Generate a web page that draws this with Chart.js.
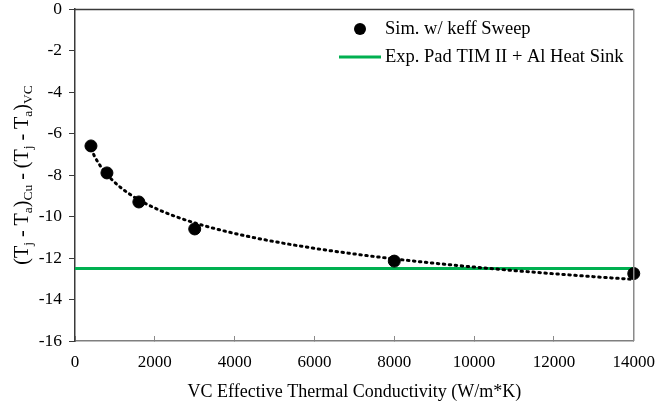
<!DOCTYPE html>
<html>
<head>
<meta charset="utf-8">
<script src="https://cdn.jsdelivr.net/npm/chart.js@4"></script>
<style>
    html, body { margin: 0; padding: 0; background: #ffffff; }
    #box { width: 671px; height: 406px; }
</style>
</head>
<body>
<div id="box"><canvas id="grafico"></canvas></div>
<script>
// dados
const conductividade = [400, 800, 1600, 3000, 8000, 14000];
const deltaTemp = [-6.6, -7.9, -9.3, -10.6, -12.15, -12.75];
const experimental = -12.5;
const xTicks = [0, 2000, 4000, 6000, 8000, 10000, 12000, 14000];
const yTicks = [0, -2, -4, -6, -8, -10, -12, -14, -16];

const serieNome = 'Sim. w/ keff Sweep';
const expNome = 'Exp. Pad TIM II + Al Heat Sink';

const fonte = 'Liberation Serif';

// linha de tendencia logaritmica (minimos quadrados sobre os dados)
function tendenciaLog(xs, ys) {
    const lx = xs.map(v => Math.log(v));
    const mx = lx.reduce((a, b) => a + b, 0) / lx.length;
    const my = ys.reduce((a, b) => a + b, 0) / ys.length;
    let sxy = 0, sxx = 0;
    lx.forEach((v, i) => { sxy += (v - mx) * (ys[i] - my); sxx += (v - mx) * (v - mx); });
    const a = sxy / sxx;
    const b = my - a * mx;
    const pts = [];
    const x0 = xs[0], x1 = xs[xs.length - 1];
    for (let i = 0; i <= 120; i++) {
        const x = x0 + (x1 - x0) * i / 120;
        pts.push({ x: x, y: a * Math.log(x) + b });
    }
    return pts;
}

const caixaPlugin = {
    id: 'caixa',
    afterDatasetsDraw(chart) {
        const ctx = chart.ctx;
        const a = chart.chartArea;
        ctx.save();
        ctx.lineWidth = 1.5;
        ctx.strokeStyle = '#3a3a3a';
        ctx.beginPath();
        ctx.moveTo(a.left, a.top + 0.5);
        ctx.lineTo(a.right, a.top + 0.5);
        ctx.stroke();
        ctx.strokeStyle = '#8a8a8a';
        ctx.beginPath();
        ctx.moveTo(a.right, a.top);
        ctx.lineTo(a.right, a.bottom);
        ctx.stroke();
        ctx.restore();
    }
};

// legenda dentro da area do grafico
const legendaPlugin = {
    id: 'legendaInterna',
    afterDraw(chart) {
        const ctx = chart.ctx;
        ctx.save();
        ctx.font = '18.5px "' + fonte + '"';
        ctx.fillStyle = '#000000';
        ctx.textBaseline = 'middle';
        ctx.textAlign = 'left';
        ctx.beginPath();
        ctx.arc(360, 29, 6, 0, Math.PI * 2);
        ctx.fill();
        ctx.fillText(serieNome, 385, 29);
        ctx.strokeStyle = '#00B050';
        ctx.lineWidth = 3;
        ctx.beginPath();
        ctx.moveTo(339, 57);
        ctx.lineTo(381, 57);
        ctx.stroke();
        ctx.fillText(expNome, 385, 57);
        ctx.restore();
    }
};

// titulo do eixo y com subscritos
const tituloYPlugin = {
    id: 'tituloY',
    afterDraw(chart) {
        const partes = [
            ['(T', 0], ['j', 1], [' - T', 0], ['a', 1], [')', 0], ['Cu', 1],
            [' - (T', 0], ['j', 1], [' - T', 0], ['a', 1], [')', 0], ['VC', 1]
        ];
        const ctx = chart.ctx;
        const grande = '20px "' + fonte + '"';
        const pequeno = '13.5px "' + fonte + '"';
        let total = 0;
        partes.forEach(p => { ctx.font = p[1] ? pequeno : grande; total += ctx.measureText(p[0]).width; });
        const a = chart.chartArea;
        ctx.save();
        ctx.translate(22, (a.top + a.bottom) / 2);
        ctx.rotate(-Math.PI / 2);
        ctx.fillStyle = '#000000';
        ctx.textBaseline = 'alphabetic';
        let x = -total / 2;
        partes.forEach(p => {
            ctx.font = p[1] ? pequeno : grande;
            ctx.fillText(p[0], x, p[1] ? 10 : 6);
            x += ctx.measureText(p[0]).width;
        });
        ctx.restore();
    }
};

new Chart(document.getElementById('grafico'), {
    type: 'scatter',

    data: {
        datasets: [{
            label: serieNome,
            data: conductividade.map((x, i) => ({ x: x, y: deltaTemp[i] })),
            backgroundColor: '#000000',
            borderColor: '#000000',
            pointRadius: 6,
            pointHoverRadius: 6,
            clip: false,
            order: 0
        }, {
            label: 'tendencia',
            type: 'line',
            data: tendenciaLog(conductividade, deltaTemp),
            borderColor: '#000000',
            borderWidth: 3,
            borderDash: [1.5, 4.5],
            borderCapStyle: 'round',
            pointRadius: 0,
            fill: false,
            clip: false,
            order: 1
        }, {
            label: expNome,
            type: 'line',
            data: [{ x: 0, y: experimental }, { x: 14000, y: experimental }],
            borderColor: '#00B050',
            borderWidth: 3,
            pointRadius: 0,
            fill: false,
            order: 2
        }]
    },

    options: {
        responsive: true,
        maintainAspectRatio: false,
        animation: false,
        layout: {
            padding: { top: 0, right: 31, left: 0, bottom: 0 }
        },
        plugins: {
            legend: { display: false },
            tooltip: { enabled: false }
        },

        scales: {
            x: {
                type: 'linear',
                min: 0,
                max: 14000,
                afterBuildTicks: s => { s.ticks = xTicks.map(v => ({ value: v })); },
                afterFit: s => { s.height = 65; },
                ticks: {
                    color: '#000000',
                    padding: 16,
                    maxRotation: 0,
                    callback: v => String(v),
                    font: { family: fonte, size: 17 }
                },
                grid: {
                    drawOnChartArea: false,
                    tickLength: -5,
                    color: '#8a8a8a'
                },
                border: { color: '#7f7f7f', width: 1.5 },
                title: {
                    display: true,
                    text: 'VC Effective Thermal Conductivity (W/m*K)',
                    color: '#000000',
                    padding: { top: 0, bottom: 3 },
                    font: { family: fonte, size: 18 }
                }
            },

            y: {
                type: 'linear',
                min: -16,
                max: 0,
                afterBuildTicks: s => { s.ticks = yTicks.map(v => ({ value: v })); },
                afterFit: s => { s.width = 75; s.paddingTop = 9; },
                ticks: {
                    color: '#000000',
                    padding: 7,
                    callback: v => String(v),
                    font: { family: fonte, size: 17.5 }
                },
                grid: {
                    drawOnChartArea: false,
                    tickLength: 6,
                    color: '#3a3a3a'
                },
                border: { color: '#3a3a3a', width: 1.5 }
            }
        }
    },

    plugins: [caixaPlugin, legendaPlugin, tituloYPlugin]
});
</script>
</body>
</html>
